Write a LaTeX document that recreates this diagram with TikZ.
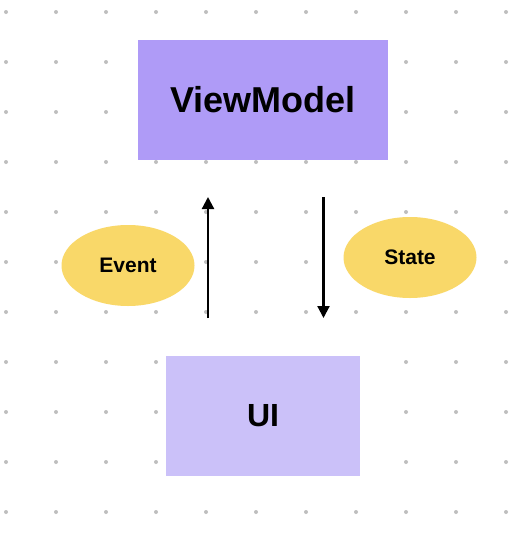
\documentclass[tikz,border=0pt]{standalone}
\usepackage{fontspec}
\setmainfont{Liberation Sans}
\usetikzlibrary{arrows.meta,shapes.geometric}
\definecolor{vmfill}{HTML}{AF9BF7}
\definecolor{uifill}{HTML}{CBC1F9}
\definecolor{pill}{HTML}{F9D869}
\definecolor{dotc}{HTML}{BEBEBE}
\tikzset{
  box/.style={draw=none, minimum width=#1, inner sep=0pt, minimum height=120pt},
  label/.style={ellipse, fill=pill, draw=none, minimum width=133pt, minimum height=81pt, inner sep=0pt},
  flow/.style={line width=2.2pt, -{Triangle[length=12pt,width=12pt]}},
}
\begin{document}
\begin{tikzpicture}[x=1pt,y=-1pt]
\useasboundingbox (0,0) rectangle (526,544);
\fill[white] (0,0) rectangle (526,544);
\foreach \i in {0,...,10}{
  \foreach \j in {0,...,10}{
    \fill[dotc] (6+50*\i,12+50*\j) circle (2pt);
  }
}
\node[box=250pt, fill=vmfill, font=\fontsize{36}{40}\selectfont\bfseries] (vm) at (263,99.5) {ViewModel};
\node[box=194pt, fill=uifill, font=\fontsize{32}{36}\selectfont\bfseries] (ui) at (263,415.5) {UI};
\node[label, font=\fontsize{21}{24}\selectfont\bfseries] (event) at (128,265.5) {Event};
\node[label, font=\fontsize{21}{24}\selectfont\bfseries] (state) at (410,257.5) {State};
\coordinate (upS) at (208,318);
\coordinate (upE) at (208,197);
\coordinate (dnS) at (323.5,197);
\coordinate (dnE) at (323.5,318);
\draw[flow] (upS) -- (upE);
\draw[flow] (dnS) -- (dnE);
\end{tikzpicture}
\end{document}
